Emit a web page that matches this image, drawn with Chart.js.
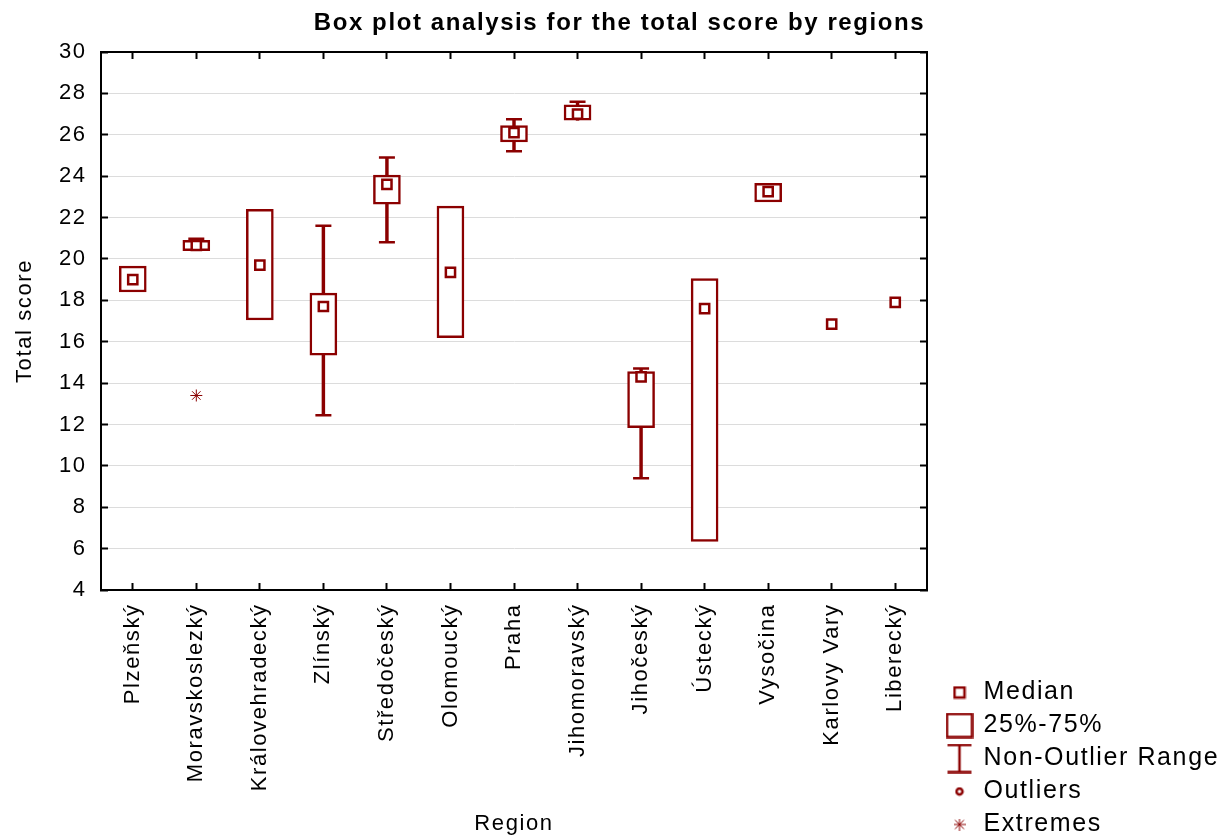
<!DOCTYPE html>
<html>
<head>
<meta charset="utf-8">
<script src="https://cdn.jsdelivr.net/npm/chart.js@4.4.1/dist/chart.umd.min.js"></script>
<style>
  html, body { margin: 0; padding: 0; background: #fff; overflow: hidden; }
  #wrap { width: 1228px; height: 837px; }
</style>
</head>
<body>
<div id="wrap"><canvas id="boxChart" width="1228" height="837"></canvas></div>
<script>
// data
const categories = ['Plzeňský', 'Moravskoslezký', 'Královehradecký', 'Zlínský', 'Středočeský', 'Olomoucký',
  'Praha', 'Jihomoravský', 'Jihočeský', 'Ústecký', 'Vysočina', 'Karlovy Vary', 'Liberecký'];

const medians     = [19.0, 20.65, 19.7, 17.7, 23.6, 19.35, 26.1, 27.0, 14.3, 17.6, 23.25, 16.85, 17.9];
const q1          = [18.4, 20.4, 17.05, 15.35, 22.65, 16.2, 25.65, 26.7, 11.85, 6.35, 22.75, null, null];
const q3          = [19.65, 20.9, 22.4, 18.35, 24.05, 22.55, 26.45, 27.45, 14.55, 19.05, 23.65, null, null];
const whiskerLow  = [null, null, null, 12.45, 20.8, null, 25.2, null, 9.4, null, null, null, null];
const whiskerHigh = [null, 20.98, null, 21.6, 24.9, null, 26.75, 27.6, 14.7, null, null, null, null];
const extremes    = [null, 13.4, null, null, null, null, null, null, null, null, null, null, null];

const yTicks = { min: 4, max: 30, step: 2 };

const darkRed = '#8b0000';
Chart.defaults.font.family = '"Liberation Sans", Arial, sans-serif';
Chart.defaults.color = '#000';

const boxRange = categories.map((c, i) => q1[i] == null ? null : [q1[i], q3[i]]);
const whiskerRange = categories.map((c, i) => {
  if (whiskerLow[i] == null && whiskerHigh[i] == null) return null;
  return [whiskerLow[i] ?? q1[i], whiskerHigh[i] ?? q3[i]];
});

// small canvases used as legend symbols
function symbol(w, h, draw) {
  const c = document.createElement('canvas');
  c.width = w; c.height = h;
  const g = c.getContext('2d');
  g.strokeStyle = darkRed;
  g.lineWidth = 2.5;
  draw(g);
  return c;
}
const symMedian = symbol(14, 14, g => g.strokeRect(2, 2, 10, 10));
const symBox = symbol(28, 26, g => g.strokeRect(1.5, 1.5, 25, 23));
const symRange = symbol(28, 30, g => {
  g.beginPath();
  g.moveTo(2, 1.5); g.lineTo(26, 1.5);
  g.moveTo(14, 1.5); g.lineTo(14, 28.5);
  g.moveTo(2, 28.5); g.lineTo(26, 28.5);
  g.stroke();
});
const symOutlier = symbol(10, 10, g => { g.beginPath(); g.arc(5, 5, 3, 0, Math.PI * 2); g.stroke(); });
const symExtreme = symbol(12, 12, g => {
  g.lineWidth = 1;
  g.beginPath();
  g.moveTo(6, 0); g.lineTo(6, 12);
  g.moveTo(0, 6); g.lineTo(12, 6);
  g.moveTo(1.5, 1.5); g.lineTo(10.5, 10.5);
  g.moveTo(10.5, 1.5); g.lineTo(1.5, 10.5);
  g.stroke();
});

const legendItems = [
  ['Median', symMedian],
  ['25%-75%', symBox],
  ['Non-Outlier Range', symRange],
  ['Outliers', symOutlier],
  ['Extremes', symExtreme]
];

// the reference text is widely spaced
const spacing = {
  id: 'spacing',
  beforeUpdate(chart) { chart.ctx.letterSpacing = '1.6px'; },
  beforeDraw(chart) { chart.ctx.letterSpacing = '1.6px'; }
};

// legend on the right is wider than chart.js allows by default
const legendWidth = {
  id: 'legendWidth',
  beforeLayout(chart) {
    const legend = chart.legend;
    if (!legend || legend._fixedFit) return;
    const fit = legend.fit;
    legend.fit = function () { fit.call(this); this.width = 288; };
    legend._fixedFit = true;
  }
};

const ctx = document.getElementById('boxChart');
new Chart(ctx, {
  type: 'bar',
  data: {
    labels: categories,
    datasets: [
      {
        label: 'Non-Outlier Range',
        data: whiskerRange,
        grouped: false,
        barThickness: 2.8,
        backgroundColor: darkRed,
        borderWidth: 0,
        order: 4
      },
      {
        label: '25%-75%',
        data: boxRange,
        grouped: false,
        barThickness: 27,
        backgroundColor: '#fff',
        borderColor: darkRed,
        borderWidth: 2.5,
        borderSkipped: false,
        order: 3
      },
      {
        type: 'line',
        label: 'caps high',
        data: whiskerHigh,
        showLine: false,
        pointStyle: 'line',
        pointRadius: 8,
        borderColor: darkRed,
        borderWidth: 2.5,
        order: 2
      },
      {
        type: 'line',
        label: 'caps low',
        data: whiskerLow,
        showLine: false,
        pointStyle: 'line',
        pointRadius: 8,
        borderColor: darkRed,
        borderWidth: 2.5,
        order: 2
      },
      {
        type: 'line',
        label: 'Median',
        data: medians,
        showLine: false,
        pointStyle: 'rect',
        pointRadius: 6.5,
        pointBackgroundColor: '#fff',
        pointBorderColor: darkRed,
        pointBorderWidth: 2.5,
        order: 1
      },
      {
        type: 'line',
        label: 'Extremes',
        data: extremes,
        showLine: false,
        pointStyle: 'star',
        pointRadius: 6,
        pointBorderColor: darkRed,
        pointBorderWidth: 1,
        order: 1
      }
    ]
  },
  options: {
    responsive: false,
    animation: false,
    events: [],
    layout: { padding: { left: 11, right: 0, top: 0, bottom: -8 } },
    plugins: {
      title: {
        display: true,
        text: 'Box plot analysis for the total score by regions',
        font: { size: 24, weight: 'bold' },
        color: '#000',
        padding: { top: 9, bottom: 9 }
      },
      legend: {
        position: 'right',
        align: 'end',
        labels: {
          usePointStyle: true,
          pointStyleWidth: 23,
          padding: 8,
          color: '#000',
          font: { size: 25 },
          generateLabels: () => legendItems.map(([text, img]) => ({
            text: text,
            pointStyle: img,
            fillStyle: '#fff',
            strokeStyle: darkRed,
            lineWidth: 0,
            hidden: false
          }))
        }
      },
      tooltip: { enabled: false }
    },
    scales: {
      x: {
        type: 'category',
        offset: true,
        grid: { drawOnChartArea: false, offset: false, tickLength: -7, tickColor: '#000', tickWidth: 2 },
        border: { color: '#000', width: 2 },
        ticks: { minRotation: 90, maxRotation: 90, autoSkip: false, padding: 20.4, font: { size: 22 }, color: '#000' },
        title: { display: true, text: 'Region', font: { size: 22 }, color: '#000', padding: { top: 0, bottom: 7.8 } },
        afterFit: s => { s.height = 255; }
      },
      x2: {
        type: 'category',
        position: 'top',
        labels: categories,
        offset: true,
        grid: { drawOnChartArea: false, offset: false, tickLength: -7, tickColor: '#000', tickWidth: 2 },
        border: { color: '#000', width: 2 },
        ticks: { display: false },
        afterFit: s => { s.height = 5.2; }
      },
      y: {
        min: yTicks.min,
        max: yTicks.max,
        ticks: { stepSize: yTicks.step, padding: 21.4, font: { size: 22 }, color: '#000' },
        grid: { color: '#dcdcdc', lineWidth: 1, tickLength: -7, tickColor: '#000', tickWidth: 2 },
        border: { color: '#000', width: 2 },
        title: { display: true, text: 'Total score', font: { size: 22 }, color: '#000', padding: { top: 0.8, bottom: 0 } },
        afterFit: s => { s.width = 90; }
      },
      y2: {
        position: 'right',
        min: yTicks.min,
        max: yTicks.max,
        ticks: { display: false, stepSize: yTicks.step },
        grid: { drawOnChartArea: false, tickLength: -7, tickColor: '#000', tickWidth: 2 },
        border: { color: '#000', width: 2 },
        afterFit: s => { s.width = 13; }
      }
    }
  },
  plugins: [spacing, legendWidth]
});
</script>
</body>
</html>
